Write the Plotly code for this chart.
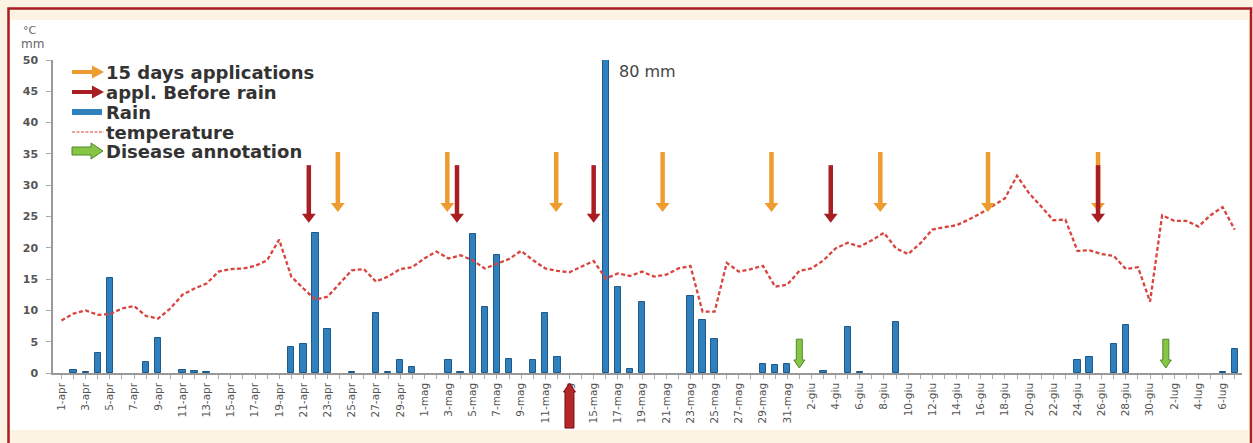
import plotly.graph_objects as go

# ---------------- data ----------------
months = [("apr", 30), ("mag", 31), ("giu", 30), ("lug", 7)]
day_labels = [f"{d}-{m}" for m, n in months for d in range(1, n + 1)]
day_index = list(range(len(day_labels)))

rain_mm = [0, 0.5, 0.2, 3.2, 15.2, 0, 0, 1.7, 5.6, 0,
           0.5, 0.4, 0.1, 0, 0, 0, 0, 0, 0, 4.2,
           4.7, 22.4, 7.1, 0, 0.2, 0, 9.6, 0.1, 2.1, 0.9,
           0, 0, 2.0, 0.2, 22.2, 10.5, 18.8, 2.3, 0, 2.0,
           9.6, 2.5, 0, 0, 0, 80, 13.8, 0.7, 11.3, 0,
           0, 0, 12.3, 8.5, 5.4, 0, 0, 0, 1.5, 1.2,
           1.4, 0, 0, 0.3, 0, 7.4, 0.1, 0, 0, 8.1,
           0, 0, 0, 0, 0, 0, 0, 0, 0, 0,
           0, 0, 0, 0, 2.0, 2.5, 0, 4.7, 7.6, 0,
           0, 0, 0, 0, 0, 0, 0.2, 3.8]

temperature = [8.4, 9.5, 10.0, 9.3, 9.4, 10.3, 10.7, 9.1, 8.7, 10.3,
               12.5, 13.5, 14.3, 16.2, 16.6, 16.7, 17.1, 18.0, 21.3, 15.4,
               13.5, 11.7, 12.2, 14.3, 16.4, 16.6, 14.6, 15.4, 16.6, 16.9,
               18.3, 19.4, 18.3, 18.8, 18.0, 16.7, 17.5, 18.2, 19.5, 18.0,
               16.7, 16.3, 16.1, 17.0, 17.9, 15.1, 15.9, 15.5, 16.2, 15.4,
               15.7, 16.7, 17.1, 9.8, 9.8, 17.6, 16.2, 16.6, 17.1, 13.8,
               14.1, 16.3, 16.7, 18.0, 19.9, 20.8, 20.2, 21.2, 22.4, 19.9,
               19.0, 20.7, 22.9, 23.3, 23.6, 24.5, 25.5, 26.7, 27.9, 31.5,
               28.7, 26.6, 24.4, 24.5, 19.5, 19.6, 19.0, 18.7, 16.6, 16.9,
               11.4, 25.2, 24.3, 24.3, 23.4, 25.2, 26.5, 22.9]

app15_x = [22.85, 31.9, 40.9, 49.7, 58.7, 67.7, 76.6, 85.7]
app15_top, app15_tip = 35.3, 25.7
apprain_x = [20.45, 32.7, 44.0, 63.6, 85.7]
apprain_top, apprain_tip = 33.2, 24.0
disease_x = [61.0, 91.3]
disease_top, disease_tip = 5.4, 0.8
up_arrow_x, up_arrow_tip, up_arrow_tail = 42.0, -1.6, -8.8

legend_labels = ["15 days applications", "appl. Before rain", "Rain",
                 "temperature", "Disease annotation"]
big_rain_label = "80 mm"

# ---------------- layout geometry ----------------
W, H = 1253, 443
L, R, T, B = 53, 11, 60, 70
PW, PH = W - L - R, H - T - B
YMAX = 50
XMIN, XMAX = -0.7, 97.6
PPU = PH / YMAX               # px per value unit
PPD = PW / (XMAX - XMIN)      # px per day

def px(x):
    return (x - L) / PW

def py(y):
    return (H - B - y) / PH

ORANGE = "#EE9B2F"
DRED = "#A81E22"
BLUE = "#2F80BD"
TRED = "#D9443E"
GREEN = "#86C545"
GREEN_D = "#4E8A2A"
CREAM = "#FDF3E3"
FONT = "DejaVu Sans"

fig = go.Figure()

fig.add_trace(go.Bar(x=day_index, y=rain_mm, width=0.52,
                     marker=dict(color=BLUE,
                                 line=dict(color="#1D5A8A",
                                           width=[1 if v > 0 else 0 for v in rain_mm])),
                     showlegend=False))

fig.add_trace(go.Scatter(x=day_index, y=temperature, mode="lines",
                         line=dict(color=TRED, width=2.3, dash="4px,2.5px"),
                         showlegend=False))

HEAD = 12  # marker size px
def add_down_arrows(xs, top, tip, color):
    cy = tip + (HEAD / 2) / PPU
    sx, sy = [], []
    for x in xs:
        sx += [x, x, None]
        sy += [top, cy, None]
    fig.add_trace(go.Scatter(x=sx, y=sy, mode="lines",
                             line=dict(color=color, width=4.5), showlegend=False))
    fig.add_trace(go.Scatter(x=xs, y=[cy] * len(xs), mode="markers",
                             marker=dict(symbol="triangle-down", size=HEAD, color=color,
                                         line=dict(width=0)),
                             showlegend=False))

add_down_arrows(app15_x, app15_top, app15_tip, ORANGE)
add_down_arrows(apprain_x, apprain_top, apprain_tip, DRED)

shapes = []
# white panel on the cream page
shapes.append(dict(type="rect", xref="paper", yref="paper", layer="below",
                   x0=px(10), x1=px(1248), y0=py(430), y1=py(20),
                   fillcolor="white", line=dict(width=0)))

# disease block arrows (data coordinates)
sw = 3.0 / PPD   # shaft half width (days)
hw = 5.5 / PPD   # head half width
hl = 8.0 / PPU   # head length (value units)
for x in disease_x:
    yb = disease_tip + hl
    path = (f"M{x - sw},{disease_top} L{x + sw},{disease_top} L{x + sw},{yb} "
            f"L{x + hw},{yb} L{x},{disease_tip} L{x - hw},{yb} L{x - sw},{yb} Z")
    shapes.append(dict(type="path", xref="x", yref="y", path=path,
                       fillcolor=GREEN, line=dict(color=GREEN_D, width=1)))

# upward red block arrow below the axis (x in data, y as fraction of the value axis)
uw, uhw, uhl = 4.5 / PPD, 6.0 / PPD, 9.0 / PPU
ux = up_arrow_x
ub = up_arrow_tip - uhl
upts = [(ux - uw, up_arrow_tail), (ux - uw, ub), (ux - uhw, ub), (ux, up_arrow_tip),
        (ux + uhw, ub), (ux + uw, ub), (ux + uw, up_arrow_tail)]
shapes.append(dict(type="path", xref="x", yref="paper",
                   path="M" + " L".join(f"{a},{b / YMAX}" for a, b in upts) + " Z",
                   fillcolor="#B5262A", line=dict(color="#7A1014", width=1)))

# cream band hiding the bottom of the up arrow
shapes.append(dict(type="rect", xref="paper", yref="paper", layer="above",
                   x0=px(10), x1=px(1249.5), y0=py(443), y1=py(430),
                   fillcolor=CREAM, line=dict(width=0)))
# border
shapes.append(dict(type="rect", xref="paper", yref="paper", layer="above",
                   x0=px(8.5), x1=px(1251), y0=py(470), y1=py(8.5),
                   fillcolor="rgba(0,0,0,0)", line=dict(color=DRED, width=2.5)))

# ---------------- legend (custom) ----------------
leg_y = [72, 92, 112, 132, 151]
lx0, lx1 = 72, 104
for yy, col in zip(leg_y[:2], [ORANGE, DRED]):
    shapes.append(dict(type="line", xref="paper", yref="paper",
                       x0=px(lx0), x1=px(lx1 - 9), y0=py(yy), y1=py(yy),
                       line=dict(color=col, width=4)))
    shapes.append(dict(type="path", xref="paper", yref="paper",
                       path=(f"M{px(lx1 - 12)},{py(yy - 6.5)} L{px(lx1)},{py(yy)} "
                             f"L{px(lx1 - 12)},{py(yy + 6.5)} Z"),
                       fillcolor=col, line=dict(width=0)))
shapes.append(dict(type="rect", xref="paper", yref="paper",
                   x0=px(lx0), x1=px(lx1 - 2), y0=py(leg_y[2] + 3), y1=py(leg_y[2] - 3),
                   fillcolor=BLUE, line=dict(width=0)))
shapes.append(dict(type="line", xref="paper", yref="paper",
                   x0=px(lx0), x1=px(lx1), y0=py(leg_y[3]), y1=py(leg_y[3]),
                   line=dict(color=TRED, width=1.2, dash="3px,1.5px")))
gy = leg_y[4]
gp = [(lx0, gy - 4), (lx0 + 19, gy - 4), (lx0 + 19, gy - 8), (lx1 - 1, gy),
      (lx0 + 19, gy + 8), (lx0 + 19, gy + 4), (lx0, gy + 4)]
shapes.append(dict(type="path", xref="paper", yref="paper",
                   path="M" + " L".join(f"{px(a)},{py(b)}" for a, b in gp) + " Z",
                   fillcolor=GREEN, line=dict(color=GREEN_D, width=1)))

annotations = []
for yy, txt in zip(leg_y, legend_labels):
    annotations.append(dict(x=px(105), y=py(yy), xref="paper", yref="paper",
                            text=txt, showarrow=False, xanchor="left", yanchor="middle",
                            borderpad=0,
                            font=dict(family=FONT, size=18, color="#333333", weight="bold")))

annotations.append(dict(x=45.9, y=(H - B - 71) / PPU, xref="x", yref="y",
                        text=big_rain_label, showarrow=False, xanchor="left",
                        yanchor="middle", font=dict(family=FONT, size=16, color="#444444")))

annotations.append(dict(x=px(21), y=py(30), xref="paper", yref="paper", text="°C",
                        showarrow=False, xanchor="left", yanchor="middle",
                        font=dict(family=FONT, size=11, color="#666666")))
annotations.append(dict(x=px(19), y=py(44), xref="paper", yref="paper", text="mm",
                        showarrow=False, xanchor="left", yanchor="middle",
                        font=dict(family=FONT, size=12, color="#666666")))

tick_text = [lab if i % 2 == 0 else "" for i, lab in enumerate(day_labels)]

fig.update_layout(
    width=W, height=H,
    margin=dict(l=L, r=R, t=T, b=B, pad=0, autoexpand=False),
    paper_bgcolor=CREAM, plot_bgcolor="rgba(0,0,0,0)",
    showlegend=False, bargap=0,
    shapes=shapes, annotations=annotations,
    xaxis=dict(range=[XMIN, XMAX], tickmode="array", tickvals=day_index,
               ticktext=tick_text, tickangle=-90, ticks="outside", ticklen=4,
               tickcolor="#aaaaaa", showline=True, linecolor="#999999", linewidth=1.5,
               showgrid=False, zeroline=False, automargin=False,
               tickfont=dict(family=FONT, size=10.5, color="#555555")),
    yaxis=dict(range=[0, YMAX], dtick=5, ticks="outside", ticklen=5,
               tickcolor="#aaaaaa", showline=True, linecolor="#999999", linewidth=1.5,
               showgrid=False, zeroline=False, ticklabelstandoff=6, automargin=False,
               tickfont=dict(family=FONT, size=11, color="#555555", weight="bold")),
)

fig.write_html("out.html",
               config={"displayModeBar": False},
               post_script="document.body.style.margin='0';"
                           "document.body.style.overflow='hidden';"
                           "document.body.style.background='#FDF3E3';")
